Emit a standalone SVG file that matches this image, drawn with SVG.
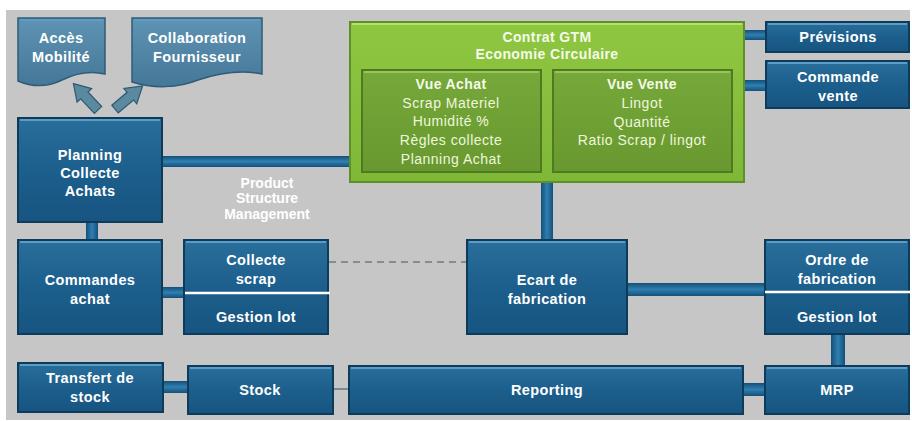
<svg xmlns="http://www.w3.org/2000/svg" width="912" height="421" viewBox="0 0 912 421">
<defs>
<linearGradient id="gBlue" x1="0" y1="0" x2="0" y2="1">
<stop offset="0" stop-color="#2a6e9c"/>
<stop offset="0.5" stop-color="#1c5f8c"/>
<stop offset="1" stop-color="#175481"/>
</linearGradient>
<linearGradient id="gBanner" x1="0" y1="0" x2="0" y2="1">
<stop offset="0" stop-color="#5f93b3"/>
<stop offset="1" stop-color="#457898"/>
</linearGradient>
<linearGradient id="gGreen" x1="0" y1="0" x2="0" y2="1">
<stop offset="0" stop-color="#8fc641"/>
<stop offset="1" stop-color="#7fb737"/>
</linearGradient>
<linearGradient id="gGreenIn" x1="0" y1="0" x2="0" y2="1">
<stop offset="0" stop-color="#76a83a"/>
<stop offset="1" stop-color="#68982f"/>
</linearGradient>
<linearGradient id="gBarH" x1="0" y1="0" x2="0" y2="1">
<stop offset="0" stop-color="#14507a"/>
<stop offset="0.5" stop-color="#2f7fb0"/>
<stop offset="1" stop-color="#14507a"/>
</linearGradient>
<linearGradient id="gBarV" x1="0" y1="0" x2="1" y2="0">
<stop offset="0" stop-color="#14507a"/>
<stop offset="0.5" stop-color="#2f7fb0"/>
<stop offset="1" stop-color="#14507a"/>
</linearGradient>
<style>
.box{fill:url(#gBlue);stroke:#0f3b5a;stroke-width:2}
.hl{stroke:#5b9dc7;stroke-width:2}
.banner{fill:url(#gBanner);stroke:#305b77;stroke-width:1.5}
.t{font-family:"Liberation Sans",Arial,sans-serif;font-weight:bold;font-size:14.5px;letter-spacing:0.4px;fill:#ffffff;text-anchor:middle}
.tp{font-family:"Liberation Sans",Arial,sans-serif;font-weight:bold;font-size:14px;fill:#ffffff;text-anchor:middle}
.tg{font-family:"Liberation Sans",Arial,sans-serif;font-size:14px;letter-spacing:0.5px;fill:#eef7dc;text-anchor:middle}
.tgb{font-family:"Liberation Sans",Arial,sans-serif;font-weight:bold;font-size:14px;letter-spacing:0.4px;fill:#f4fbe8;text-anchor:middle}
.barh{fill:url(#gBarH)}
.barv{fill:url(#gBarV)}
.arrow{fill:#5b8a9e;stroke:#2c5a75;stroke-width:1.2}
.sep{stroke:#ffffff;stroke-width:2.5}
</style>
</defs>

<rect x="6" y="10" width="904" height="410" fill="#c6c6c6"/>

<g id="connectors">
<rect class="barh" x="161" y="156" width="190" height="11"/>
<rect class="barv" x="86" y="221" width="12" height="20"/>
<rect class="barv" x="541" y="181" width="12" height="60"/>
<rect class="barh" x="743" y="30" width="24" height="10"/>
<rect class="barh" x="743" y="80" width="24" height="11"/>
<rect class="barh" x="161" y="287" width="24" height="11"/>
<line x1="329" y1="262" x2="467" y2="262" stroke="#858c92" stroke-width="2" stroke-dasharray="7 5"/>
<rect class="barh" x="626" y="283" width="140" height="13"/>
<rect class="barv" x="831" y="333" width="14" height="35"/>
<rect class="barh" x="162" y="381" width="27" height="12"/>
<line x1="333" y1="389" x2="350" y2="389" stroke="#7b8a94" stroke-width="2"/>
<rect class="barh" x="742" y="383" width="24" height="13"/>
<polygon class="arrow" points="0,-5 20,-5 20,-10 36,0 20,10 20,5 0,5" transform="translate(98,110) rotate(-133)"/>
<polygon class="arrow" points="0,-5 20,-5 20,-10 36,0 20,10 20,5 0,5" transform="translate(115,109) rotate(-40)"/>
</g>

<g id="acces">
<path class="banner" d="M18,18 H105 V74 C88,70 74,74 62,80 C48,87 32,87 18,81 Z"/>
<line class="hl" x1="20" y1="20" x2="103" y2="20" stroke="#8fbcd6"/>
<text class="t" x="61" y="43">Accès</text>
<text class="t" x="61" y="62">Mobilité</text>
</g>

<g id="collaboration">
<path class="banner" d="M132,18 H262 V74 C238,69 216,74 198,80 C178,88 154,89 132,82 Z"/>
<line class="hl" x1="134" y1="20" x2="260" y2="20" stroke="#8fbcd6"/>
<text class="t" x="197" y="43">Collaboration</text>
<text class="t" x="197" y="62">Fournisseur</text>
</g>

<g id="planning">
<rect class="box" x="18" y="118" width="144" height="104"/>
<line class="hl" x1="20" y1="120" x2="160" y2="120"/>
<text class="t" x="90" y="160">Planning</text>
<text class="t" x="90" y="178">Collecte</text>
<text class="t" x="90" y="196">Achats</text>
</g>

<g id="psm-label">
<text class="tp" x="267" y="188">Product</text>
<text class="tp" x="267" y="203">Structure</text>
<text class="tp" x="267" y="219">Management</text>
</g>

<g id="contrat">
<rect x="350" y="22" width="394" height="160" fill="url(#gGreen)" stroke="#5f8f28" stroke-width="2"/>
<line x1="352" y1="24" x2="742" y2="24" stroke="#b5e06a" stroke-width="2"/>
<text class="tgb" x="547" y="42">Contrat GTM</text>
<text class="tgb" x="547" y="59">Economie Circulaire</text>
<g id="vue-achat">
<rect x="362" y="70" width="179" height="102" fill="url(#gGreenIn)" stroke="#4f7a22" stroke-width="2"/>
<line x1="364" y1="72" x2="539" y2="72" stroke="#a3cf63" stroke-width="1.5"/>
<text class="tgb" x="451" y="89">Vue Achat</text>
<text class="tg" x="451" y="108">Scrap Materiel</text>
<text class="tg" x="451" y="126">Humidité %</text>
<text class="tg" x="451" y="145">Règles collecte</text>
<text class="tg" x="451" y="164">Planning Achat</text>
</g>
<g id="vue-vente">
<rect x="553" y="70" width="179" height="102" fill="url(#gGreenIn)" stroke="#4f7a22" stroke-width="2"/>
<line x1="555" y1="72" x2="730" y2="72" stroke="#a3cf63" stroke-width="1.5"/>
<text class="tgb" x="642" y="89">Vue Vente</text>
<text class="tg" x="642" y="108">Lingot</text>
<text class="tg" x="642" y="127">Quantité</text>
<text class="tg" x="642" y="145">Ratio Scrap / lingot</text>
</g>
</g>

<g id="previsions">
<rect class="box" x="766" y="22" width="143" height="30"/>
<line class="hl" x1="768" y1="24" x2="907" y2="24"/>
<text class="t" x="838" y="42">Prévisions</text>
</g>

<g id="commande-vente">
<rect class="box" x="766" y="61" width="143" height="47"/>
<line class="hl" x1="768" y1="63" x2="907" y2="63"/>
<text class="t" x="838" y="82">Commande</text>
<text class="t" x="838" y="101">vente</text>
</g>

<g id="commandes-achat">
<rect class="box" x="18" y="240" width="144" height="94"/>
<line class="hl" x1="20" y1="242" x2="160" y2="242"/>
<text class="t" x="90" y="285">Commandes</text>
<text class="t" x="90" y="304">achat</text>
</g>

<g id="collecte-scrap">
<rect class="box" x="184" y="240" width="144" height="94"/>
<line class="hl" x1="186" y1="242" x2="326" y2="242"/>
<line class="sep" x1="185" y1="293" x2="330" y2="293"/>
<text class="t" x="256" y="265">Collecte</text>
<text class="t" x="256" y="284">scrap</text>
<text class="t" x="256" y="322">Gestion lot</text>
</g>

<g id="ecart">
<rect class="box" x="467" y="240" width="160" height="94"/>
<line class="hl" x1="469" y1="242" x2="625" y2="242"/>
<text class="t" x="547" y="285">Ecart de</text>
<text class="t" x="547" y="304">fabrication</text>
</g>

<g id="ordre">
<rect class="box" x="765" y="240" width="144" height="94"/>
<line class="hl" x1="767" y1="242" x2="907" y2="242"/>
<line class="sep" x1="765" y1="292" x2="910" y2="292"/>
<text class="t" x="837" y="265">Ordre de</text>
<text class="t" x="837" y="284">fabrication</text>
<text class="t" x="837" y="322">Gestion lot</text>
</g>

<g id="transfert">
<rect class="box" x="18" y="363" width="145" height="49"/>
<line class="hl" x1="20" y1="365" x2="161" y2="365"/>
<text class="t" x="90" y="383">Transfert de</text>
<text class="t" x="90" y="402">stock</text>
</g>

<g id="stock">
<rect class="box" x="188" y="366" width="145" height="48"/>
<line class="hl" x1="190" y1="368" x2="331" y2="368"/>
<text class="t" x="260" y="395">Stock</text>
</g>

<g id="reporting">
<rect class="box" x="349" y="366" width="394" height="48"/>
<line class="hl" x1="351" y1="368" x2="741" y2="368"/>
<text class="t" x="547" y="395">Reporting</text>
</g>

<g id="mrp">
<rect class="box" x="765" y="366" width="144" height="48"/>
<line class="hl" x1="767" y1="368" x2="907" y2="368"/>
<text class="t" x="837" y="395">MRP</text>
</g>
</svg>
